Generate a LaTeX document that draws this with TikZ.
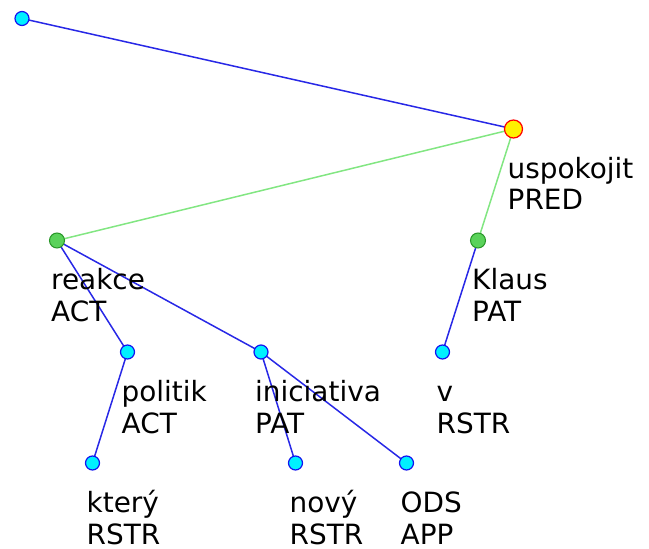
\documentclass[tikz,border=0pt]{standalone}
\usepackage{fontspec}
\setmainfont{DejaVu Sans}
\definecolor{cyanfill}{RGB}{0,240,255}
\definecolor{nodeblue}{RGB}{20,20,240}
\definecolor{edgeblue}{RGB}{40,40,230}
\definecolor{edgegreen}{RGB}{130,230,130}
\definecolor{greenfill}{RGB}{90,210,90}
\definecolor{greenline}{RGB}{40,150,40}
\tikzset{
  tnode/.style={circle, inner sep=0pt, minimum size=14bp, draw=nodeblue, fill=cyanfill, line width=1.2bp},
  gnode/.style={circle, inner sep=0pt, minimum size=15bp, draw=greenline, fill=greenfill, line width=1bp},
  ynode/.style={circle, inner sep=0pt, minimum size=18bp, draw=red, fill=yellow, line width=1.2bp},
  lbl/.style={anchor=base west, inner sep=0pt, align=left, font=\fontsize{28}{32}\selectfont},
  bedge/.style={draw=edgeblue, line width=1.5bp},
  gedge/.style={draw=edgegreen, line width=1.5bp}
}
\begin{document}
\begin{tikzpicture}[x=1bp,y=-1bp]
\useasboundingbox (0,0) rectangle (649,549);
% coordinates of tree nodes
\coordinate (pr) at (22,18.5);
\coordinate (pu) at (513.5,129);
\coordinate (pre) at (57,240.5);
\coordinate (pk) at (478,240.5);
\coordinate (pp) at (127.5,352);
\coordinate (pi) at (261,352);
\coordinate (pv) at (442.5,352);
\coordinate (pt) at (92.5,463);
\coordinate (pn) at (295.5,463);
\coordinate (po) at (406.5,463);
% edges
\draw[bedge] (pr) -- (pu);
\draw[gedge] (pu) -- (pre);
\draw[gedge] (pu) -- (pk);
\draw[bedge] (pre) -- (pp);
\draw[bedge] (pre) -- (pi);
\draw[bedge] (pp) -- (pt);
\draw[bedge] (pi) -- (pn);
\draw[bedge] (pi) -- (po);
\draw[bedge] (pk) -- (pv);
% nodes
\node[tnode] (root) at (pr) {};
\node[ynode] (uspokojit) at (pu) {};
\node[gnode] (reakce) at (pre) {};
\node[gnode] (klaus) at (pk) {};
\node[tnode] (politik) at (pp) {};
\node[tnode] (iniciativa) at (pi) {};
\node[tnode] (v) at (pv) {};
\node[tnode] (ktery) at (pt) {};
\node[tnode] (novy) at (pn) {};
\node[tnode] (ods) at (po) {};
% labels (anchor = baseline of the last line)
\node[lbl] (luspokojit) at ([shift={(-6,81)}]pu) {uspokojit\\PRED};
\node[lbl] (lreakce) at ([shift={(-6,81)}]pre) {reakce\\ACT};
\node[lbl] (lklaus) at ([shift={(-6,81)}]pk) {Klaus\\PAT};
\node[lbl] (lpolitik) at ([shift={(-6,81)}]pp) {politik\\ACT};
\node[lbl] (liniciativa) at ([shift={(-6,81)}]pi) {iniciativa\\PAT};
\node[lbl] (lv) at ([shift={(-6,81)}]pv) {v\\RSTR};
\node[lbl] (lktery) at ([shift={(-6,81)}]pt) {který\\RSTR};
\node[lbl] (lnovy) at ([shift={(-6,81)}]pn) {nový\\RSTR};
\node[lbl] (lods) at ([shift={(-6,81)}]po) {ODS\\APP};
\end{tikzpicture}
\end{document}
